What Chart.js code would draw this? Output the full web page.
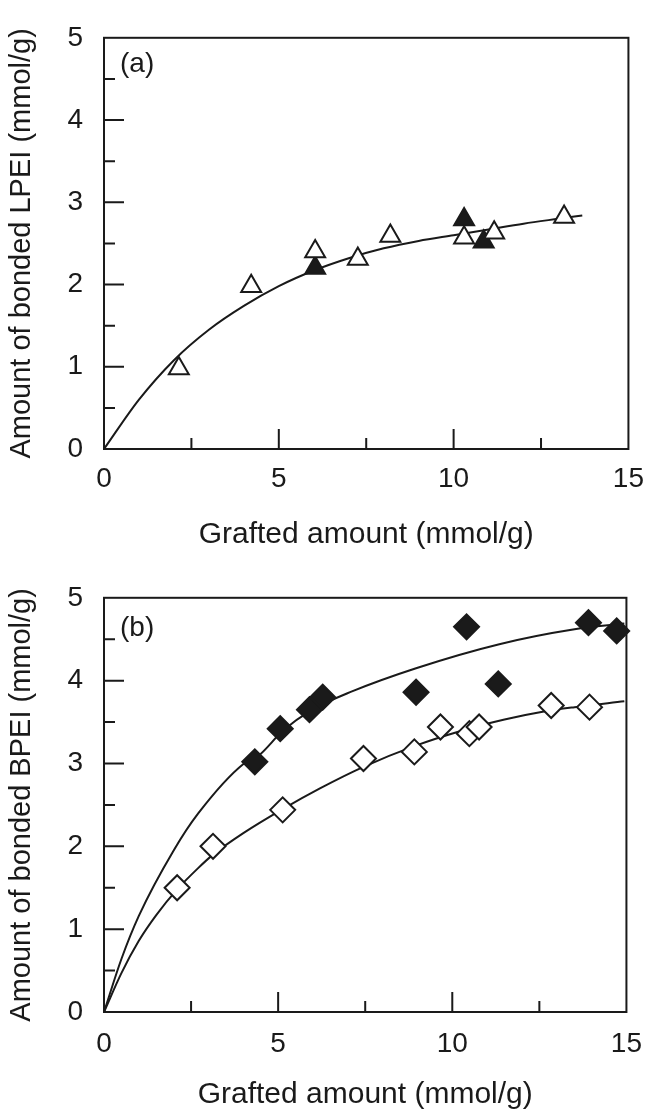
<!DOCTYPE html>
<html lang="en">
<head>
<meta charset="UTF-8">
<title>Bonded LPEI / BPEI vs grafted amount</title>
<script src="https://cdn.jsdelivr.net/npm/chart.js"></script>
<style>
  html, body { margin: 0; padding: 0; background: #fff; overflow: hidden; }
  .panel { position: absolute; left: 0; }
  #panelA { top: 0; }
  #panelB { top: 560px; }
</style>
</head>
<body>
<div class="panel" id="panelA"><canvas id="chartA" width="657" height="560"></canvas></div>
<div class="panel" id="panelB"><canvas id="chartB" width="657" height="565"></canvas></div>
<script>
// axis ticks
const xTicks = [0, 5, 10, 15];
const yTicks = [0, 1, 2, 3, 4, 5];

// panel (a): LPEI
const aOpenX = [2.14, 4.21, 6.04, 7.26, 8.19, 10.30, 11.16, 13.16];
const aOpenY = [0.98, 1.98, 2.40, 2.31, 2.59, 2.57, 2.63, 2.82];
const aFilledX = [6.04, 10.30, 10.86];
const aFilledY = [2.20, 2.79, 2.52];
const aCurveX = [0, 1, 2, 3, 4, 5, 6, 7, 8, 9, 10, 11, 12, 13, 13.68];
const aCurveY = [0, 0.60, 1.08, 1.45, 1.74, 1.98, 2.17, 2.32, 2.44, 2.53, 2.60, 2.67, 2.74, 2.80, 2.84];

// panel (b): BPEI
const bOpenX = [2.10, 3.13, 5.13, 7.45, 8.91, 9.66, 10.49, 10.77, 12.84, 13.94];
const bOpenY = [1.50, 2.00, 2.44, 3.06, 3.14, 3.44, 3.36, 3.44, 3.70, 3.68];
const bFilledX = [4.33, 5.06, 5.90, 6.28, 8.96, 10.41, 11.32, 13.91, 14.72];
const bFilledY = [3.02, 3.42, 3.65, 3.80, 3.86, 4.65, 3.96, 4.70, 4.60];
const bUpperX = [0, 0.5, 1.0, 2.0, 2.71, 4.02, 4.40, 5.15, 5.90, 7.12, 8.96, 11.35, 13.51, 14.94];
const bUpperY = [0, 0.64, 1.16, 1.95, 2.40, 3.00, 3.08, 3.40, 3.63, 3.87, 4.15, 4.44, 4.62, 4.69];
const bLowerX = [0, 0.5, 1.0, 1.5, 2.1, 2.71, 3.13, 4.0, 5.13, 6.2, 7.45, 8.91, 10.22, 11.5, 12.67, 13.51, 14.94];
const bLowerY = [0, 0.47, 0.86, 1.17, 1.48, 1.74, 1.90, 2.16, 2.45, 2.70, 2.96, 3.21, 3.39, 3.53, 3.63, 3.68, 3.75];

const ink = '#1a1a1a';
const fontFamily = '"Liberation Sans", Arial, Helvetica, sans-serif';

function zip(xs, ys) {
    return xs.map((x, i) => ({ x: x, y: ys[i] }));
}

function markers(xs, ys, style, filled, radius) {
    return {
        type: 'scatter',
        data: zip(xs, ys),
        pointStyle: style,
        pointRadius: radius,
        pointHoverRadius: radius,
        pointBorderWidth: 2,
        pointBorderColor: ink,
        pointBackgroundColor: filled ? ink : '#ffffff',
        showLine: false,
        clip: false,
        order: 1
    };
}

function curve(xs, ys) {
    return {
        type: 'line',
        data: zip(xs, ys),
        borderColor: ink,
        borderWidth: 2,
        pointRadius: 0,
        fill: false,
        cubicInterpolationMode: 'monotone',
        order: 2
    };
}

// frame, inward tick marks and panel letter
const frameTicks = {
    id: 'frameTicks',
    beforeDatasetsDraw(chart, args, opts) {
        const { ctx, chartArea: a, scales: { x, y } } = chart;
        ctx.save();
        ctx.strokeStyle = ink;
        ctx.lineWidth = 2;
        ctx.strokeRect(a.left, a.top, a.right - a.left, a.bottom - a.top);
        ctx.beginPath();
        for (let v = 2.5; v < 15; v += 2.5) {
            const px = x.getPixelForValue(v);
            const len = v % 5 === 0 ? 20 : 11;
            ctx.moveTo(px, a.bottom);
            ctx.lineTo(px, a.bottom - len);
        }
        for (let v = 0.5; v < 5; v += 0.5) {
            const py = y.getPixelForValue(v);
            const len = v % 1 === 0 ? 20 : 11;
            ctx.moveTo(a.left, py);
            ctx.lineTo(a.left + len, py);
        }
        ctx.stroke();
        ctx.fillStyle = ink;
        ctx.font = '28px ' + fontFamily;
        ctx.textBaseline = 'middle';
        ctx.textAlign = 'left';
        ctx.fillText(opts.text, a.left + 16, a.top + opts.dy);
        ctx.restore();
    }
};

function makeChart(id, datasets, cfg) {
    return new Chart(document.getElementById(id), {
        data: { datasets: datasets },
        options: {
            responsive: false,
            animation: false,
            events: [],
            layout: { padding: { top: cfg.top, right: 21, left: 0, bottom: 0 } },
            plugins: {
                legend: { display: false },
                tooltip: { enabled: false },
                frameTicks: { text: cfg.label, dy: cfg.labelDy }
            },
            scales: {
                x: {
                    type: 'linear',
                    min: 0,
                    max: 15,
                    afterBuildTicks: s => { s.ticks = xTicks.map(v => ({ value: v })); },
                    afterFit: s => { s.height = cfg.xHeight; },
                    grid: { display: false, drawTicks: false },
                    border: { display: false },
                    ticks: { padding: cfg.xTickPad, color: ink, font: { family: fontFamily, size: 28 }, maxRotation: 0 },
                    title: {
                        display: true,
                        text: 'Grafted amount (mmol/g)',
                        color: ink,
                        font: { family: fontFamily, size: 30 },
                        padding: { top: 0, bottom: cfg.xTitlePad }
                    }
                },
                y: {
                    type: 'linear',
                    min: 0,
                    max: 5,
                    afterBuildTicks: s => { s.ticks = yTicks.map(v => ({ value: v })); },
                    afterFit: s => { s.width = 104; },
                    grid: { display: false, drawTicks: false },
                    border: { display: false },
                    ticks: { padding: 21, color: ink, font: { family: fontFamily, size: 28 } },
                    title: {
                        display: true,
                        text: cfg.yTitle,
                        color: ink,
                        font: { family: fontFamily, size: 29 },
                        padding: { top: 5, bottom: 0 }
                    }
                }
            }
        },
        plugins: [frameTicks]
    });
}

makeChart('chartA', [
    markers(aOpenX, aOpenY, 'triangle', false, 11.5),
    markers(aFilledX, aFilledY, 'triangle', true, 11.5),
    curve(aCurveX, aCurveY)
], {
    top: 24, xHeight: 111, xTickPad: 13, xTitlePad: 7,
    yTitle: 'Amount of bonded LPEI (mmol/g)', label: '(a)', labelDy: 26
});

makeChart('chartB', [
    markers(bOpenX, bOpenY, 'rectRot', false, 12.5),
    markers(bFilledX, bFilledY, 'rectRot', true, 12.5),
    curve(bUpperX, bUpperY),
    curve(bLowerX, bLowerY)
], {
    top: 27, xHeight: 113, xTickPad: 15, xTitlePad: 12,
    yTitle: 'Amount of bonded BPEI (mmol/g)', label: '(b)', labelDy: 30
});
</script>
</body>
</html>
